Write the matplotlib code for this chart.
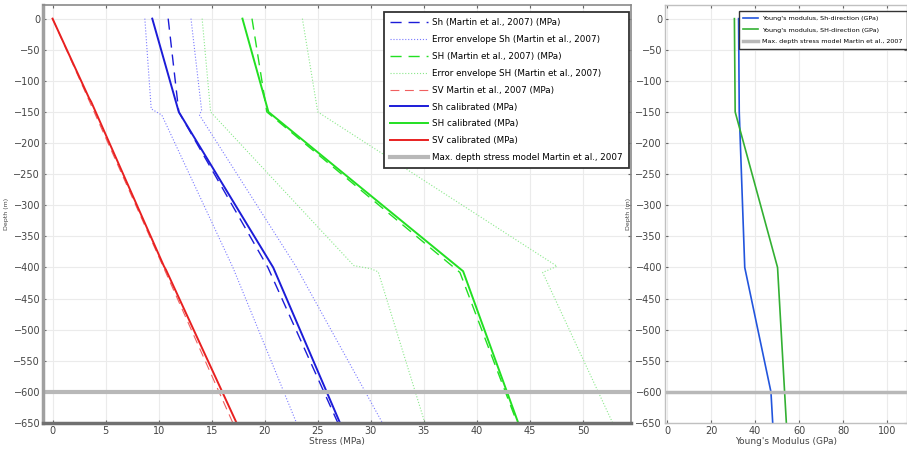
import matplotlib
matplotlib.use("Agg")
import matplotlib.pyplot as plt
import numpy as np

# ---- stress data (depth in m, stress in MPa) ----
z_sh_cal = [0, -150, -400, -650]
sh_cal = [9.4, 11.9, 20.8, 27.1]
z_sh_mar = [0, -150, -400, -650]
sh_mar = [10.9, 11.9, 20.3, 26.9]
z_sh_env_lo = [0, -145, -155, -400, -650]
sh_env_lo = [8.7, 9.3, 10.3, 17.0, 23.0]
z_sh_env_hi = [0, -147, -155, -400, -650]
sh_env_hi = [13.05, 14.05, 13.85, 23.0, 31.1]

z_SH_cal = [0, -150, -406, -650]
SH_cal = [17.9, 20.35, 38.7, 43.9]
z_SH_mar = [0, -150, -408, -650]
SH_mar = [18.8, 20.2, 38.4, 43.8]
z_SH_env_lo = [0, -150, -397, -402, -407, -650]
SH_env_lo = [14.1, 14.9, 28.4, 30.0, 30.7, 35.1]
z_SH_env_hi = [0, -150, -398, -408, -650]
SH_env_hi = [23.55, 25.0, 47.55, 46.2, 52.8]

z_sv_cal = [0, -128, -134, -398, -404, -650]
sv_cal = [0, 3.45, 3.65, 10.5, 10.7, 17.35]
z_sv_mar = [0, -650]
sv_mar = [0, 17.0]

max_depth = -600

# ---- Young's modulus (GPa) ----
z_ym = [0, -150, -400, -600, -650]
ym_sh = [32.5, 32.8, 35.3, 47.2, 48.0]
ym_SH = [30.6, 30.95, 50.2, 53.4, 54.2]

fig = plt.figure(figsize=(9.07, 4.5), dpi=100)
ax = fig.add_axes([0.0474, 0.06, 0.648, 0.929])
ax2 = fig.add_axes([0.733, 0.06, 0.267, 0.929])

blue = '#1c1cd8'
green = '#22e022'
red = '#e82020'
lblue = '#7a7aff'
lgreen = '#8ae88a'
dash = (0, (8, 5))

ax.plot(sh_mar, z_sh_mar, color=blue, lw=1.0, ls=dash, label='Sh (Martin et al., 2007) (MPa)')
ax.plot(sh_env_lo, z_sh_env_lo, color=lblue, lw=0.8, ls=':', label='Error envelope Sh (Martin et al., 2007)')
ax.plot(sh_env_hi, z_sh_env_hi, color=lblue, lw=0.8, ls=':')
ax.plot(SH_mar, z_SH_mar, color=green, lw=1.0, ls=dash, label='SH (Martin et al., 2007) (MPa)')
ax.plot(SH_env_lo, z_SH_env_lo, color=lgreen, lw=0.8, ls=':', label='Error envelope SH (Martin et al., 2007)')
ax.plot(SH_env_hi, z_SH_env_hi, color=lgreen, lw=0.8, ls=':')
ax.plot(sv_mar, z_sv_mar, color='#f06060', lw=0.8, ls=dash, label='SV Martin et al., 2007 (MPa)')
ax.plot(sh_cal, z_sh_cal, color=blue, lw=1.4, label='Sh calibrated (MPa)')
ax.plot(SH_cal, z_SH_cal, color=green, lw=1.4, label='SH calibrated (MPa)')
ax.plot(sv_cal, z_sv_cal, color=red, lw=1.4, label='SV calibrated (MPa)')
ax.axhline(max_depth, color='#b8b8b8', lw=3, label='Max. depth stress model Martin et al., 2007')

ax2.plot(ym_sh, z_ym, color='#2255dd', lw=1.2, label="Young's modulus, Sh-direction (GPa)")
ax2.plot(ym_SH, z_ym, color='#33b033', lw=1.2, label="Young's modulus, SH-direction (GPa)")
ax2.axhline(max_depth, color='#b8b8b8', lw=2.5, label='Max. depth stress model Martin et al., 2007')

for a in (ax, ax2):
    a.set_ylim(-650, 22)
    a.set_yticks(np.arange(0, -651, -50))
    a.grid(True, color='#ebebeb', lw=0.8)
    a.set_axisbelow(True)
    a.tick_params(direction='in', length=2.5, labelsize=7, labelcolor='#444444',
                  color='#666666', top=True, right=True, pad=2)
    a.set_ylabel('Depth (m)', fontsize=4.5, color='#444444', labelpad=3)

ax.set_xlim(-0.9, 54.5)
ax.set_xticks(np.arange(0, 51, 5))
ax.set_xlabel('Stress (MPa)', fontsize=6.5, color='#444444', labelpad=1)
ax.spines['left'].set_color('#a0a0a0')
ax.spines['left'].set_linewidth(2.5)
ax.spines['bottom'].set_color('#707070')
ax.spines['bottom'].set_linewidth(2.5)
for s in ('top', 'right'):
    ax.spines[s].set_color('#8a8a8a')
    ax.spines[s].set_linewidth(1.2)

ax2.set_xlim(-1, 109)
ax2.set_xticks(np.arange(0, 101, 20))
ax2.set_xlabel("Young's Modulus (GPa)", fontsize=6.5, color='#444444', labelpad=1)
for s in ax2.spines.values():
    s.set_color('#c0c0c0')
    s.set_linewidth(1.0)

leg = ax.legend(loc='upper right', bbox_to_anchor=(0.997, 0.983), fontsize=6.3, handlelength=4.4,
                handletextpad=0.45, labelspacing=0.9, fancybox=False, borderpad=0.7,
                framealpha=1, edgecolor='#333333', borderaxespad=0.0)
leg.get_frame().set_linewidth(1.3)

leg2 = ax2.legend(loc='upper right', bbox_to_anchor=(1.0, 0.985), fontsize=4.6, handlelength=2.4,
                  handletextpad=0.6, labelspacing=0.95, fancybox=False, borderpad=0.7,
                  framealpha=1, edgecolor='#333333', borderaxespad=0.0)
leg2.get_frame().set_linewidth(1.0)

fig.savefig('out.png', dpi=100)
